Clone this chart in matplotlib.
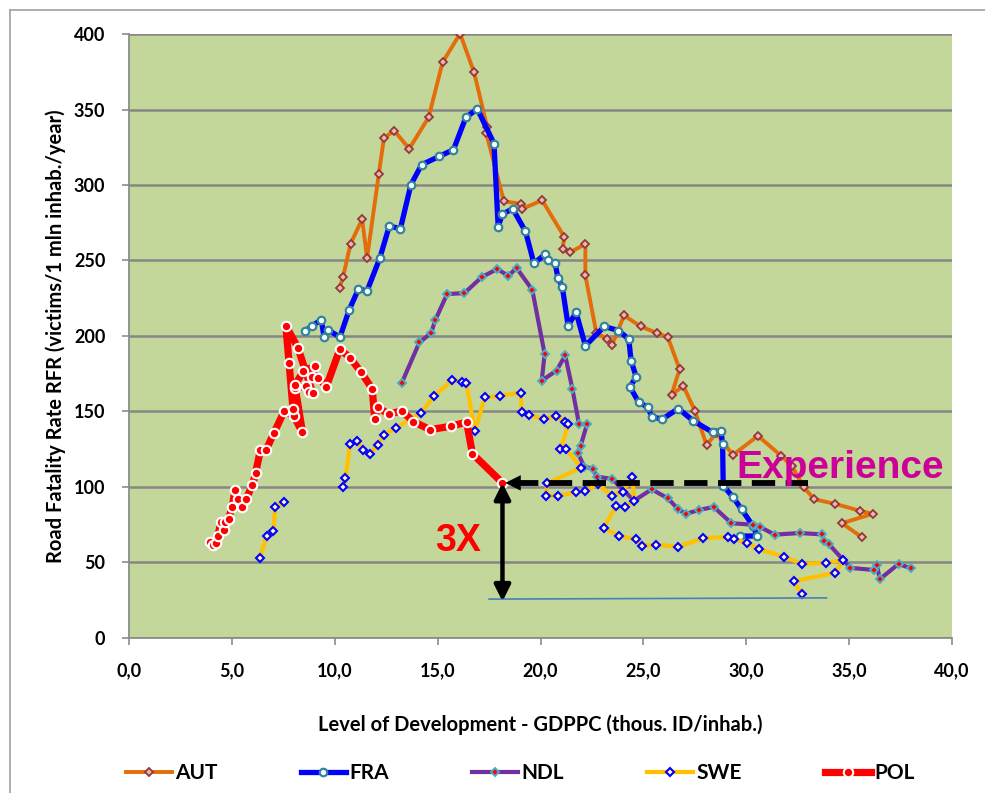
import numpy as np
import matplotlib.pyplot as plt
from matplotlib.ticker import FuncFormatter, MultipleLocator
from matplotlib.lines import Line2D

# GDP per capita (thous. ID/inhab.) vs road fatalities per 1 mln inhabitants
aut_x = [10.23, 10.40, 10.77, 11.33, 11.57, 12.14, 12.39, 12.89, 13.62, 14.56, 15.24, 16.09,
         16.77, 17.41, 17.36, 18.22, 19.03, 19.08, 20.08, 21.16, 21.07, 21.45, 22.18, 22.18,
         22.71, 23.23, 23.48, 24.06, 24.87, 25.64, 26.19, 26.76, 26.37, 26.94, 27.50, 28.07,
         28.55, 29.35, 30.57, 31.70, 32.21, 32.80, 33.30, 34.33, 35.53, 36.14, 34.65, 35.62]
aut_y = [231.6, 238.9, 261.2, 277.2, 251.5, 307.3, 331.1, 336.0, 324.0, 344.8, 381.3, 400.3,
         374.7, 338.2, 334.5, 289.1, 287.6, 284.0, 289.8, 265.5, 257.7, 255.5, 260.8, 240.0,
         202.2, 197.8, 194.0, 213.5, 206.2, 202.0, 198.9, 177.9, 160.9, 166.8, 150.4, 127.7,
         135.5, 121.0, 133.7, 120.4, 113.8, 99.6, 91.7, 88.6, 84.0, 82.0, 75.8, 66.5]

fra_x = [8.54, 8.91, 9.35, 9.48, 9.67, 10.25, 10.70, 11.15, 11.57, 12.19, 12.65, 13.19, 13.70,
         14.22, 15.07, 15.77, 16.37, 16.93, 17.74, 17.94, 18.15, 18.65, 19.27, 19.68, 20.23,
         20.34, 20.70, 20.85, 21.06, 21.34, 21.73, 22.18, 23.10, 23.79, 24.29, 24.40, 24.65,
         24.35, 24.77, 25.22, 25.40, 25.91, 26.70, 27.43, 28.36, 28.77, 28.85, 28.88, 29.36,
         29.77, 30.33, 30.53, 29.68]
fra_y = [202.9, 206.8, 210.6, 198.9, 204.0, 199.1, 217.2, 231.0, 229.8, 251.5, 272.8, 271.0, 300.2,
         313.4, 318.9, 323.4, 344.8, 350.4, 327.4, 272.3, 280.7, 284.2, 269.2, 248.0, 254.2,
         250.4, 248.6, 238.3, 232.4, 206.8, 215.5, 193.4, 206.2, 203.5, 197.8, 183.6, 172.8,
         166.2, 156.0, 152.7, 146.5, 144.7, 151.8, 143.6, 136.1, 137.1, 128.2, 100.7, 93.0,
         85.0, 74.0, 67.3, 67.3]

ndl_x = [13.25, 14.11, 14.68, 14.89, 15.46, 16.30, 17.14, 17.90, 18.43, 18.84, 19.60, 20.20,
         20.06, 20.78, 21.20, 21.55, 21.87, 22.26, 21.95, 21.80, 22.13, 22.53, 22.74, 23.48,
         24.55, 25.40, 26.19, 26.68, 27.06, 27.71, 28.42, 29.28, 30.33, 30.65, 31.38, 32.59,
         33.66, 33.80, 34.01, 35.06, 36.20, 36.35, 36.49, 37.40, 38.02]
ndl_y = [168.6, 195.6, 201.8, 210.6, 227.7, 228.3, 238.9, 244.3, 239.8, 244.9, 230.5, 188.0,
         170.3, 177.0, 187.0, 164.8, 141.5, 141.5, 127.0, 122.5, 113.3, 112.0, 106.7, 105.1,
         90.7, 98.3, 92.3, 85.2, 82.0, 84.6, 86.6, 75.8, 74.8, 73.5, 68.2, 69.3,
         68.4, 64.0, 62.0, 46.2, 44.8, 48.1, 38.7, 48.8, 45.8]

swe_x = [6.36, 6.69, 7.02, 7.10, 7.54, np.nan,
         10.41, 10.52, 10.74, 11.09, 11.38, 11.70, 12.08, 12.40, 13.00, 14.18, 14.83, 15.72,
         16.20, 16.40, 16.80, 17.30, 18.02, 19.03, 19.08, 19.43, 20.18, 20.75, 21.20, 21.36,
         20.97, 21.24, 21.98, 20.32, 20.27, 20.85, 21.72, 22.18, 22.80, 23.47, 23.99, 24.47,
         24.55, 24.12, 23.68, 23.07, 23.80, 24.63, 24.95, 25.61, 26.68, 27.92, 29.12, 29.42,
         30.04, 30.60, 31.82, 32.70, 33.88, 34.72, 34.33, 32.30, 32.70]
swe_y = [53.0, 67.3, 70.6, 86.8, 89.9, np.nan,
         100.0, 105.6, 128.4, 130.3, 124.4, 121.7, 127.7, 134.5, 139.1, 148.7, 160.2, 170.8,
         169.7, 168.6, 137.0, 159.3, 160.2, 162.4, 149.8, 147.4, 145.0, 146.7, 143.2, 141.4,
         125.0, 125.0, 112.6, 102.3, 94.0, 94.0, 96.3, 97.2, 101.5, 94.1, 96.7, 106.7,
         90.7, 86.8, 87.2, 72.8, 67.5, 65.1, 60.9, 61.6, 60.2, 65.8, 66.9, 65.5,
         62.5, 58.7, 53.6, 49.0, 49.4, 51.5, 43.0, 37.3, 28.9]

pol_x = [3.93, 4.10, 4.23, 4.31, 4.47, 4.63, 4.66, 4.84, 5.02, 5.15, 5.28, 5.49, 5.68, 6.00,
         6.15, 6.38, 6.65, 7.04, 7.54, 8.00, 8.43, 8.08, 8.60, 8.76, 8.92, 8.21, 7.62, 7.78,
         7.97, 8.08, 8.47, 9.06, 8.91, 9.20, 9.59, 10.25, 10.76, 11.28, 11.82, 11.94, 12.08,
         12.63, 13.25, 13.82, 14.63, 15.66, 16.41, 16.69, 18.15]
pol_y = [63.2, 61.4, 62.5, 67.3, 76.4, 71.1, 76.4, 78.8, 86.8, 97.8, 91.7, 86.8, 91.7, 101.0,
         109.0, 124.0, 124.0, 135.5, 150.0, 147.0, 136.0, 165.3, 166.8, 162.9, 162.4, 192.0, 206.8, 181.9,
         151.4, 167.5, 176.6, 180.0, 172.6, 172.3, 166.4, 191.2, 185.2, 175.9, 164.8, 145.1, 152.7,
         148.0, 150.3, 143.2, 137.8, 140.1, 142.8, 121.9, 102.5]

# annotation levels
experience_end = 33.0
target_level = 24.0
baseline_x = [17.5, 33.9]
baseline_y = [25.5, 26.3]

fig = plt.figure(figsize=(9.85, 7.93), dpi=100)
ax = fig.add_axes([0.131, 0.196, 0.8355, 0.761])
ax.set_facecolor('#C4D79B')

ax.set_xlim(0, 40)
ax.set_ylim(0, 400)
ax.xaxis.set_major_locator(MultipleLocator(5))
ax.yaxis.set_major_locator(MultipleLocator(50))
ax.xaxis.set_major_formatter(FuncFormatter(lambda v, p: f"{v:.1f}".replace('.', ',')))
ax.yaxis.grid(True, color='#868686', lw=1.8)
ax.set_axisbelow(True)

for s in ['top', 'right']:
    ax.spines[s].set_visible(False)
for s in ['left', 'bottom']:
    ax.spines[s].set_color('#8C8C8C')
    ax.spines[s].set_linewidth(1.3)

font = 'Lato'
ax.tick_params(axis='both', colors='#8C8C8C', length=5, width=1.2, labelcolor='black',
               labelsize=13)
ax.tick_params(axis='x', pad=13)
ax.tick_params(axis='y', pad=12)
for lab in ax.get_xticklabels() + ax.get_yticklabels():
    lab.set_fontfamily(font)
    lab.set_fontweight('bold')

ax.set_xlabel('Level of Development - GDPPC (thous. ID/inhab.)', fontsize=14.5,
              fontweight='bold', family=font, labelpad=25)
ax.set_ylabel('Road Fatality Rate RFR (victims/1 mln inhab./year)', fontsize=14.5,
              fontweight='bold', family=font, labelpad=6)

ax.plot(aut_x, aut_y, color='#E46C0A', lw=2.8, marker='D', ms=4.0,
        mfc='#E6B9B8', mec='#953735', mew=1.3, label='AUT')
ax.plot(fra_x, fra_y, color='#0000FF', lw=3.8, marker='o', ms=5.4,
        mfc='white', mec='#31859C', mew=1.6, label='FRA')
ax.plot(ndl_x, ndl_y, color='#7030A0', lw=3.0, marker='D', ms=4.2,
        mfc='#FF0000', mec='#4BACC6', mew=1.4, label='NDL')
ax.plot(swe_x, swe_y, color='#FFC000', lw=3.0, marker='D', ms=4.3,
        mfc='#FFF2CC', mec='#0000FF', mew=1.5, label='SWE')
ax.plot(pol_x, pol_y, color='#FF0000', lw=5.2, marker='o', ms=6.8,
        mfc='#FF0000', mec='white', mew=1.5, label='POL')

# "Experience" dashed arrow pointing at the last POL point
ax.plot([pol_x[-1] + 0.6, experience_end], [pol_y[-1], pol_y[-1]], color='black',
        lw=4.2, ls=(0, (4, 1.8)), solid_capstyle='butt', zorder=6)
ax.annotate('', xy=(pol_x[-1], pol_y[-1]), xytext=(pol_x[-1] + 1.0, pol_y[-1]),
            arrowprops=dict(arrowstyle='-|>', color='black', lw=0, mutation_scale=28),
            zorder=7)
ax.text(29.5, 106, 'Experience', color='#CC0099', fontsize=28, fontweight='bold',
        family='Liberation Sans', ha='left', va='baseline', zorder=8)

# 3X vertical double arrow
ax.plot(baseline_x, baseline_y, color='#4A7EBB', lw=1.2, zorder=5)
ax.annotate('', xy=(pol_x[-1], target_level), xytext=(pol_x[-1], pol_y[-1]),
            arrowprops=dict(arrowstyle='<|-|>', color='black', lw=3.2, mutation_scale=24,
                            shrinkA=0, shrinkB=0), zorder=7)
ax.text(16.0, 64, '3X', color='#FF0000', fontsize=27, fontweight='bold',
        family='Liberation Sans', ha='center', va='center', zorder=8)

handles = ax.get_legend_handles_labels()
leg = fig.legend(*handles, loc='center', bbox_to_anchor=(0.528, 0.025), ncol=5,
                 frameon=False, handlelength=2.2, handletextpad=0.15, columnspacing=4.0,
                 prop={'family': font, 'weight': 'bold', 'size': 15})

# chart area border
fig.add_artist(Line2D([10 / 985, 10 / 985], [1 - 10 / 793, 0], color='#A0A0A0', lw=1.2))
fig.add_artist(Line2D([10 / 985, 1], [1 - 10 / 793, 1 - 10 / 793], color='#A0A0A0', lw=1.2))

fig.savefig('out.png', dpi=100)
